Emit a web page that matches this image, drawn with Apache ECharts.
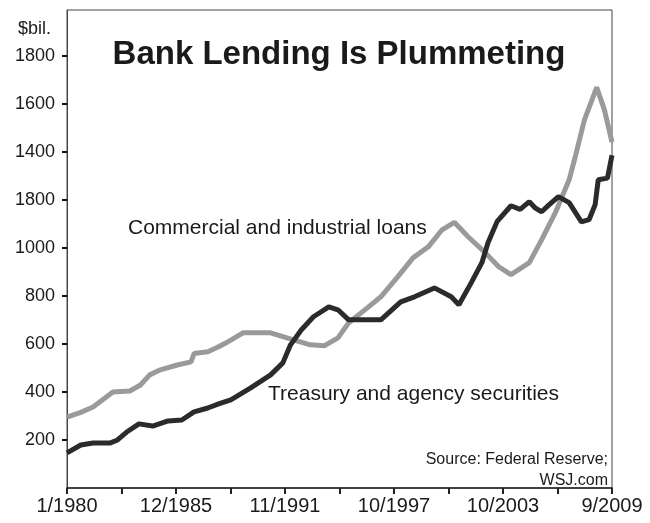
<!DOCTYPE html>
<html>
<head>
<meta charset="utf-8">
<title>Bank Lending Is Plummeting</title>
<script src="https://cdn.jsdelivr.net/npm/echarts@6/dist/echarts.min.js"></script>
<style>
  html, body { margin: 0; padding: 0; background: #fff; }
  #chart { width: 650px; height: 523px; }
</style>
</head>
<body>
<div id="chart"></div>
<script>
// x axis runs in months counted from 1/1980 (0) to 9/2009 (356)
var xTickLabels = ['1/1980', '', '12/1985', '', '11/1991', '', '10/1997', '', '10/2003', '', '9/2009'];
// y ticks and their labels (the "1800" at 1200 is as printed in the original)
var yTicks = [200, 400, 600, 800, 1000, 1200, 1400, 1600, 1800];
var yTickLabels = ['200', '400', '600', '800', '1000', '1800', '1400', '1600', '1800'];

// Commercial and industrial loans, $bil.
var ciMonths = [0, 9, 17, 30, 41, 48, 54, 61, 72, 81, 83, 92, 99, 105, 115, 133, 148, 159, 168, 177,
  184, 197, 205, 216, 226, 236, 245, 253, 262, 273, 282, 290, 302, 310, 319, 328, 332, 338, 346, 351, 356];
var ciValues = [295, 315, 337, 400, 404, 429, 471, 492, 512, 525, 560, 567, 588, 608, 646, 646, 617, 596, 592, 625,
  688, 754, 796, 879, 958, 1004, 1075, 1106, 1046, 981, 921, 888, 938, 1033, 1146, 1283, 1379, 1533, 1668, 1575, 1440];

// Treasury and agency securities, $bil.
var taMonths = [0, 9, 17, 28, 33, 39, 47, 56, 66, 75, 83, 92, 99, 107, 120, 133, 141, 146, 153, 161,
  171, 177, 184, 192, 205, 218, 227, 240, 251, 256, 264, 271, 275, 281, 290, 296, 302, 306, 310, 315, 321, 328, 336, 341, 345, 347, 353, 356];
var taValues = [146, 179, 187, 187, 200, 233, 267, 258, 279, 283, 317, 333, 350, 367, 417, 471, 521, 596, 658, 713,
  754, 742, 700, 700, 700, 775, 796, 833, 796, 763, 854, 938, 1021, 1110, 1175, 1160, 1192, 1165, 1150, 1180, 1213, 1188, 1108, 1117, 1180, 1283, 1290, 1385];

var FONT = 'Liberation Sans, Arial, Helvetica, sans-serif';

function pairs(xs, ys) {
  var out = [];
  for (var i = 0; i < xs.length; i++) out.push([xs[i], ys[i]]);
  return out;
}

var myChart = echarts.init(document.getElementById('chart'), null, { renderer: 'canvas' });

var xBase = {
  type: 'value', min: 0, max: 356, interval: 35.6,
  splitLine: { show: false }
};
var yBase = {
  type: 'value', min: 0, max: 1990, interval: 200,
  splitLine: { show: false }
};

var option = {
  backgroundColor: '#fff',
  animation: false,
  grid: {
    left: 67, right: 38, top: 10, bottom: 35,
    show: true, borderColor: '#444', borderWidth: 1, backgroundColor: 'transparent'
  },
  xAxis: [
    Object.assign({}, xBase, {
      axisLine: { show: true, lineStyle: { color: '#222', width: 1.5 } },
      axisTick: { show: true, length: 6, lineStyle: { color: '#222', width: 2 } },
      axisLabel: {
        color: '#1a1a1a', fontSize: 20, fontFamily: FONT, margin: 8,
        showMinLabel: true, showMaxLabel: true,
        formatter: function (v) { return xTickLabels[Math.round(v / 35.6)] || ''; }
      }
    }),
    // second copy so the ticks cross the axis line
    Object.assign({}, xBase, {
      axisLine: { show: false },
      axisTick: { show: true, inside: true, length: 6, lineStyle: { color: '#222', width: 2 } },
      axisLabel: { show: false }
    })
  ],
  yAxis: [
    Object.assign({}, yBase, {
      axisLine: { show: true, lineStyle: { color: '#444', width: 1 } },
      axisTick: { show: true, length: 5, customValues: yTicks, lineStyle: { color: '#111', width: 2 } },
      axisLabel: {
        color: '#1a1a1a', fontSize: 18, fontFamily: FONT, margin: 12,
        customValues: yTicks,
        formatter: function (v) { return yTickLabels[yTicks.indexOf(v)] || ''; }
      }
    }),
    Object.assign({}, yBase, {
      axisLine: { show: false },
      axisTick: { show: true, inside: true, length: 5, customValues: yTicks, lineStyle: { color: '#111', width: 2 } },
      axisLabel: { show: false }
    })
  ],
  graphic: [
    {
      type: 'text', left: 18, top: 20,
      style: { text: '$bil.', fill: '#1a1a1a', font: '18px ' + FONT }
    },
    {
      type: 'text', x: 339, y: 55,
      style: { text: 'Bank Lending Is Plummeting', fill: '#1a1a1a', font: 'bold 33px ' + FONT,
        textAlign: 'center', textVerticalAlign: 'middle' }
    },
    {
      type: 'text', x: 128, y: 228,
      style: { text: 'Commercial and industrial loans', fill: '#1a1a1a', font: '21px ' + FONT,
        textAlign: 'left', textVerticalAlign: 'middle' }
    },
    {
      type: 'text', x: 268, y: 394,
      style: { text: 'Treasury and agency securities', fill: '#1a1a1a', font: '21px ' + FONT,
        textAlign: 'left', textVerticalAlign: 'middle' }
    },
    {
      type: 'text', x: 608, y: 460,
      style: { text: 'Source: Federal Reserve;', fill: '#1a1a1a', font: '16px ' + FONT,
        textAlign: 'right', textVerticalAlign: 'middle' }
    },
    {
      type: 'text', x: 608, y: 481,
      style: { text: 'WSJ.com', fill: '#1a1a1a', font: '16px ' + FONT,
        textAlign: 'right', textVerticalAlign: 'middle' }
    }
  ],
  series: [
    {
      name: 'Commercial and industrial loans',
      type: 'line',
      showSymbol: false,
      lineStyle: { color: '#9a9a9a', width: 5 },
      data: pairs(ciMonths, ciValues)
    },
    {
      name: 'Treasury and agency securities',
      type: 'line',
      showSymbol: false,
      lineStyle: { color: '#2b2b2b', width: 5 },
      data: pairs(taMonths, taValues)
    }
  ]
};

myChart.setOption(option);
window.addEventListener('resize', function () {
  myChart.resize();
}, true);
</script>
</body>
</html>
